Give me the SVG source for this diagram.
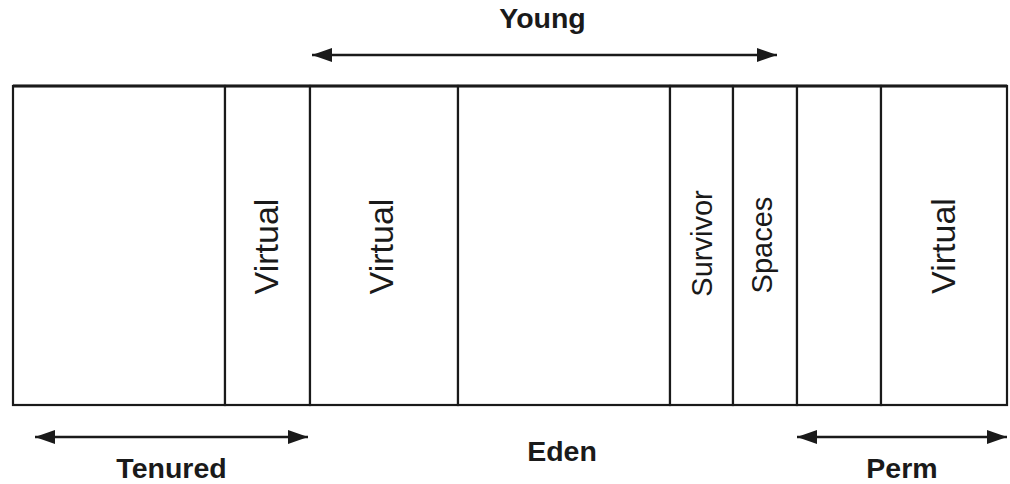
<svg xmlns="http://www.w3.org/2000/svg" width="1010" height="484" viewBox="0 0 1010 484">
  <style>
    .col { fill: #ffffff; stroke: #1a1a1a; stroke-width: 2.2; }
    .vlabel { font-family: "Liberation Sans", Arial, sans-serif; fill: #1a1a1a; text-anchor: middle; }
    .big { font-size: 34px; }
    .small { font-size: 29px; }
    .label { font-family: "Liberation Sans", Arial, sans-serif; font-weight: bold; font-size: 28.5px; fill: #1a1a1a; text-anchor: middle; }
    .arrow { stroke: #1a1a1a; stroke-width: 2.5; fill: none; marker-start: url(#head); marker-end: url(#head); }
  </style>
  <defs>
    <marker id="head" markerUnits="userSpaceOnUse" markerWidth="20" markerHeight="14" refX="20" refY="7" orient="auto-start-reverse" viewBox="0 0 20 14">
      <path d="M0,0 L20,7 L0,14 z" fill="#1a1a1a"/>
    </marker>
  </defs>
  <rect x="0" y="0" width="1010" height="484" fill="#ffffff"/>

  <g id="tenured-space">
    <rect class="col" x="13" y="86" width="212" height="319"/>
  </g>
  <g id="tenured-virtual">
    <rect class="col" x="225" y="86" width="85" height="319"/>
    <text class="vlabel big" x="278" y="246.5" transform="rotate(-90 278 246.5)">Virtual</text>
  </g>
  <g id="young-virtual">
    <rect class="col" x="310" y="86" width="148" height="319"/>
    <text class="vlabel big" x="393" y="246.5" transform="rotate(-90 393 246.5)">Virtual</text>
  </g>
  <g id="eden-space">
    <rect class="col" x="458" y="86" width="212" height="319"/>
  </g>
  <g id="survivor-space">
    <rect class="col" x="670" y="86" width="63" height="319"/>
    <text class="vlabel small" x="712" y="243.5" transform="rotate(-90 712 243.5)">Survivor</text>
  </g>
  <g id="spaces-space">
    <rect class="col" x="733" y="86" width="64" height="319"/>
    <text class="vlabel small" x="772" y="245" transform="rotate(-90 772 245)">Spaces</text>
  </g>
  <g id="perm-space">
    <rect class="col" x="797" y="86" width="84" height="319"/>
  </g>
  <g id="perm-virtual">
    <rect class="col" x="881" y="86" width="126" height="319"/>
    <text class="vlabel big" x="955" y="246" transform="rotate(-90 955 246)">Virtual</text>
  </g>
  <line x1="13" y1="86" x2="1007" y2="86" stroke="#1a1a1a" stroke-width="3"/>

  <g id="connectors">
    <line class="arrow" x1="312" y1="55" x2="777" y2="55"/>
    <line class="arrow" x1="35" y1="437" x2="308" y2="437"/>
    <line class="arrow" x1="797" y1="437" x2="1007" y2="437"/>
  </g>

  <g id="young-label"><text class="label" x="542.5" y="28">Young</text></g>
  <g id="tenured-label"><text class="label" x="171.5" y="478">Tenured</text></g>
  <g id="eden-label"><text class="label" x="562" y="461">Eden</text></g>
  <g id="perm-label"><text class="label" x="902" y="478">Perm</text></g>
</svg>
